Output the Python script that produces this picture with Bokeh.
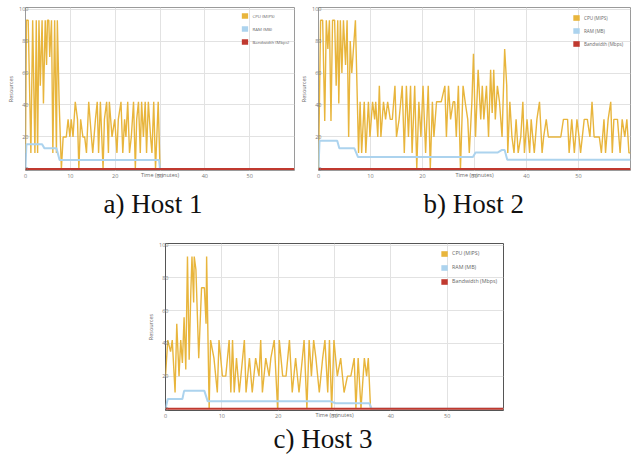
from bokeh.plotting import figure
from bokeh.layouts import column, row
from bokeh.models import Range1d, FixedTicker, Title, Spacer, Legend, LegendItem
from bokeh.embed import file_html
from bokeh.resources import INLINE

CPU_COLOR = "#e8b53c"
RAM_COLOR = "#acd3ee"
BW_COLOR = "#c0392f"

SERIES_NAMES = ["CPU (MIPS)", "RAM (MB)", "Bandwidth (Mbps)"]
X_TICKS = [0, 10, 20, 30, 40, 50]
Y_TICKS = [0, 20, 40, 60, 80, 100]

# ---------------- Host 1 ----------------
H1_CPU_T = [0.0, 0.2, 0.6, 1.2, 1.6, 2.1, 2.4, 2.7, 3.0, 3.3,
            3.7, 4.0, 4.4, 4.7, 4.9, 5.2, 5.4, 5.8, 6.1, 6.5,
            6.9, 7.1, 7.5, 8.0, 8.4, 9.1, 9.5, 9.9, 10.2, 10.6,
            11.1, 11.6, 11.9, 12.3, 12.8, 13.2, 13.6, 14.1, 14.7, 15.0,
            15.6, 16.0, 16.3, 16.7, 17.3, 17.6, 18.1, 18.5, 18.7, 19.3,
            19.9, 20.4, 20.7, 21.3, 21.7, 22.1, 22.4, 22.8, 23.2, 23.6,
            24.1, 24.5, 24.8, 25.2, 25.6, 25.9, 26.3, 26.7, 27.0, 27.4,
            27.9, 28.2, 28.6, 29.0, 29.6, 30.0, 60.0]
H1_CPU = [10, 93, 93, 10, 93, 10, 93, 10, 93, 52,
          93, 41, 93, 65, 93, 93, 70, 93, 10, 93,
          10, 93, 42, 0, 20, 20, 31, 20, 31, 20,
          42, 31, 0, 31, 20, 20, 10, 42, 20, 10,
          31, 42, 10, 42, 0, 31, 42, 10, 42, 20,
          31, 10, 31, 42, 10, 31, 20, 42, 10, 20,
          42, 0, 31, 42, 10, 42, 20, 42, 10, 42,
          20, 10, 42, 0, 42, 0, 0]
H1_RAM_T = [0.0, 0.2, 3.7, 4.2, 6.9, 7.6, 29.8, 30.0, 60.0]
H1_RAM = [0, 15.4, 15.4, 13, 13, 5.5, 5.5, 0, 0]

# ---------------- Host 2 ----------------
H2_CPU_T = [0.0, 0.4, 0.8, 1.2, 1.5, 1.8, 2.1, 2.4, 2.7, 3.1,
            3.4, 3.7, 3.9, 4.2, 4.5, 4.8, 5.2, 5.5, 5.8, 6.1,
            6.4, 7.1, 7.4, 7.7, 8.0, 8.3, 8.8, 9.1, 9.6, 9.9,
            10.4, 10.8, 11.0, 11.4, 11.7, 12.0, 12.5, 12.9, 13.3, 13.8,
            14.2, 14.7, 15.0, 15.5, 16.1, 16.5, 16.9, 17.3, 17.7, 18.0,
            18.5, 18.9, 19.3, 19.7, 20.1, 20.6, 21.1, 21.5, 21.9, 22.2,
            22.7, 23.1, 23.6, 24.3, 24.6, 25.0, 25.4, 25.9, 26.2, 26.5,
            26.9, 27.3, 27.8, 28.2, 28.7, 29.0, 29.5, 29.8, 30.2, 30.7,
            31.2, 31.5, 31.8, 32.3, 32.7, 33.1, 33.4, 33.7, 34.0, 34.4,
            34.8, 35.3, 35.8, 36.2, 36.4, 36.8, 37.2, 37.6, 38.0, 38.4,
            38.9, 39.3, 39.6, 40.1, 40.6, 40.9, 41.2, 41.5, 42.0, 42.5,
            43.0, 43.3, 43.8, 44.2, 44.7, 46.0, 46.6, 47.1, 47.9, 48.2,
            48.7, 49.2, 49.7, 50.1, 50.4, 51.1, 51.7, 52.2, 52.6, 53.0,
            53.3, 54.0, 54.4, 54.9, 55.2, 55.7, 56.2, 56.5, 56.8, 57.5,
            58.0, 58.4, 58.9, 59.3, 59.7, 60.0]
H2_CPU = [0, 93, 93, 30, 93, 75, 93, 30, 93, 93,
          52, 93, 41, 93, 60, 93, 65, 93, 20, 80,
          60, 93, 52, 10, 42, 10, 42, 10, 42, 20,
          42, 31, 42, 20, 52, 20, 42, 31, 42, 31,
          31, 52, 20, 31, 52, 10, 52, 20, 52, 10,
          52, 0, 42, 20, 52, 10, 52, 0, 42, 20,
          42, 42, 42, 52, 20, 52, 31, 42, 42, 20,
          52, 0, 52, 42, 31, 10, 42, 72, 20, 62,
          31, 52, 31, 52, 20, 62, 35, 62, 31, 52,
          42, 20, 75, 52, 10, 42, 20, 10, 31, 10,
          20, 42, 10, 31, 10, 31, 20, 10, 31, 42,
          10, 20, 31, 20, 20, 20, 20, 31, 31, 10,
          31, 10, 31, 20, 10, 31, 31, 20, 42, 20,
          20, 20, 10, 31, 10, 31, 42, 10, 31, 31,
          10, 31, 20, 31, 10, 10]
H2_RAM_T = [0.0, 0.2, 3.6, 4.0, 6.9, 7.6, 29.7, 30.2, 34.5, 35.3, 35.8, 36.3, 60.0]
H2_RAM = [0, 17.6, 17.6, 12.9, 12.9, 7.4, 7.4, 10.3, 10.3, 11.9, 11.9, 5.7, 5.7]

# ---------------- Host 3 ----------------
H3_CPU_T = [0.0, 0.4, 0.9, 1.2, 1.7, 2.0, 2.4, 2.7, 3.0, 3.3,
            3.6, 3.9, 4.2, 4.5, 4.7, 5.0, 5.1, 5.4, 5.9, 6.4,
            6.9, 7.2, 7.3, 7.75, 8.0, 8.6, 9.2, 9.5, 10.1, 10.7,
            11.3, 11.6, 11.9, 12.2, 12.6, 13.1, 14.0, 14.3, 14.9, 15.4,
            16.0, 16.6, 16.9, 17.2, 17.8, 18.4, 18.7, 19.3, 19.9, 20.2,
            20.8, 21.4, 22.0, 22.5, 23.1, 23.7, 24.3, 24.6, 25.1, 25.5,
            25.9, 26.3, 26.7, 27.3, 27.9, 28.3, 28.8, 29.1, 29.5, 29.9,
            30.5, 31.1, 31.7, 32.3, 32.9, 33.5, 33.8, 34.2, 34.7, 35.3,
            35.7, 36.0, 36.4, 60.0]
H3_CPU = [20, 42, 35, 42, 10, 52, 20, 42, 28, 56,
          24, 93, 30, 72, 93, 65, 93, 85, 31, 74,
          74, 52, 93, 0, 42, 31, 10, 42, 20, 20,
          42, 10, 42, 10, 31, 10, 42, 10, 31, 10,
          31, 20, 42, 10, 31, 20, 31, 42, 0, 42,
          20, 20, 42, 10, 31, 10, 31, 42, 0, 42,
          20, 42, 31, 10, 31, 42, 10, 42, 0, 42,
          20, 31, 10, 20, 20, 31, 0, 31, 0, 31,
          20, 31, 0, 0]
H3_RAM_T = [0.0, 0.4, 3.0, 3.3, 6.9, 7.5, 29.3, 30.2, 36.2, 36.6, 60.0]
H3_RAM = [0, 6, 6, 11, 11, 4.6, 4.6, 3.4, 3.4, 0, 0]

# bandwidth stays at zero for the whole run on every host
BW_T = [0, 60]
BW = [0, 0]

NAN = float("nan")


def panel(cpu_t, cpu, ram_t, ram, caption, width, height, mbl, mbr, mbt, mbb,
          outline, cap_offset, cap_standoff, leg_margin, leg_font, small):
    p = figure(width=width, height=height, x_range=Range1d(0, 60), y_range=Range1d(-1, 101),
               output_backend="svg", toolbar_location=None,
               min_border_left=mbl, min_border_right=mbr,
               min_border_top=mbt, min_border_bottom=mbb,
               background_fill_color="white", border_fill_color="white")
    p.outline_line_color = outline
    p.outline_line_width = 1
    p.xaxis.ticker = FixedTicker(ticks=X_TICKS)
    p.yaxis.ticker = FixedTicker(ticks=Y_TICKS)
    for ax in (p.xaxis[0], p.yaxis[0]):
        ax.axis_line_color = None
        ax.major_tick_line_color = None
        ax.minor_tick_line_color = None
        ax.major_tick_out = 0
        ax.major_tick_in = 0
        ax.minor_tick_out = 0
        ax.major_label_text_font_size = small
        ax.major_label_text_color = "#7a7a7a"
        ax.major_label_text_font = "Open Sans"
        ax.axis_label_text_font_size = small
        ax.axis_label_text_font_style = "normal"
        ax.axis_label_text_color = "#6a6a6a"
        ax.axis_label_text_font = "Open Sans"
    p.xaxis.axis_label = "Time (minutes)"
    p.yaxis.axis_label = "Resources"
    p.xaxis.major_label_standoff = 3
    p.xaxis.axis_label_standoff = -10
    p.yaxis.major_label_standoff = -3
    p.yaxis.axis_label_standoff = 1
    p.xgrid.grid_line_color = "#e2e2e2"
    p.ygrid.grid_line_color = "#e2e2e2"

    p.line(cpu_t, cpu, line_color=CPU_COLOR, line_width=1.4)
    p.line(ram_t, ram, line_color=RAM_COLOR, line_width=2)
    p.line(BW_T, BW, line_color=BW_COLOR, line_width=2)

    # legend swatches: filled-block proxies that draw nothing inside the plot (NaN extent)
    proxies = [p.quad(left=[NAN], right=[NAN], bottom=[NAN], top=[NAN],
                      fill_color=c, line_color=None)
               for c in (CPU_COLOR, RAM_COLOR, BW_COLOR)]
    legend = Legend(items=[LegendItem(label=n, renderers=[r]) for n, r in zip(SERIES_NAMES, proxies)],
                    location="top_right")
    legend.glyph_width = 8
    legend.glyph_height = 7
    legend.label_height = 7
    legend.label_text_font_size = leg_font
    legend.label_text_color = "#666666"
    legend.label_text_font = "Open Sans"
    legend.label_standoff = 4
    legend.spacing = 6
    legend.padding = 0
    legend.margin = leg_margin
    legend.background_fill_alpha = 0
    legend.border_line_color = None
    p.add_layout(legend)

    p.add_layout(Title(text=caption, align="left", offset=cap_offset,
                       text_font="Liberation Serif", text_font_size="27px",
                       text_font_style="normal", text_color="#111111",
                       standoff=cap_standoff), "below")
    return p


p1 = panel(H1_CPU_T, H1_CPU, H1_RAM_T, H1_RAM, "a) Host 1",
           width=295, height=226, mbl=25, mbr=1, mbt=5, mbb=56,
           outline="#9a9a9a", cap_offset=78, cap_standoff=11, leg_margin=5,
           leg_font="4.3px", small="5.5px")
p2 = panel(H2_CPU_T, H2_CPU, H2_RAM_T, H2_RAM, "b) Host 2",
           width=336, height=226, mbl=23, mbr=1, mbt=7, mbb=55,
           outline="#9a9a9a", cap_offset=105, cap_standoff=10, leg_margin=7,
           leg_font="4.6px", small="5.5px")
p3 = panel(H3_CPU_T, H3_CPU, H3_RAM_T, H3_RAM, "c) Host 3",
           width=364, height=230, mbl=25, mbr=1, mbt=17, mbb=46,
           outline="#555555", cap_offset=108, cap_standoff=1, leg_margin=6,
           leg_font="5.3px", small="5.5px")

layout = column(row(p1, p2), row(Spacer(width=140, height=230), p3))

open("out.html", "w").write(file_html(layout, INLINE))
